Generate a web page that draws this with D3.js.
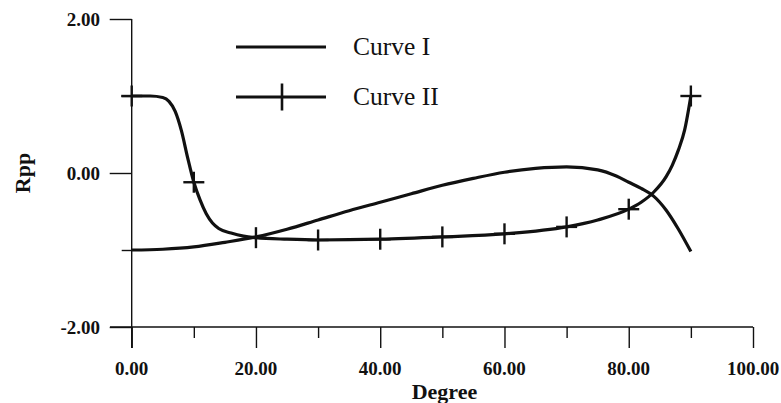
<!DOCTYPE html>
<html>
<head>
<meta charset="utf-8">
<script src="https://cdn.jsdelivr.net/npm/d3@7"></script>
<style>
  html, body { margin: 0; padding: 0; background: #fff; }
  svg { display: block; }
</style>
</head>
<body>
<svg id="chart" width="781" height="403"></svg>
<script>
// ---- data ----
const curve1Deg = [0, 5, 10, 15, 20, 25, 30, 35, 40, 45, 50, 55, 60, 65, 70, 75, 78, 80, 82, 84, 86, 88, 90];
const curve1Val = [-1.0, -0.99, -0.96, -0.9, -0.83, -0.73, -0.61, -0.49, -0.38, -0.27, -0.16, -0.07, 0.01, 0.06, 0.08, 0.04, -0.04, -0.12, -0.2, -0.3, -0.48, -0.73, -1.02];

const curve2Deg = [0, 3, 5, 6, 7, 8, 9, 10, 11, 12, 13, 14, 16, 18, 20, 25, 30, 40, 50, 60, 70, 75, 80, 82, 84, 86, 87, 88, 89, 90];
const curve2Val = [1.0, 1.0, 0.98, 0.93, 0.8, 0.55, 0.2, -0.12, -0.35, -0.53, -0.65, -0.72, -0.78, -0.82, -0.84, -0.86, -0.87, -0.86, -0.83, -0.79, -0.70, -0.61, -0.47, -0.38, -0.25, -0.05, 0.1, 0.3, 0.56, 1.0];

const markerDeg = [0, 10, 20, 30, 40, 50, 60, 70, 80, 90];
const markerVal = [1.0, -0.12, -0.84, -0.87, -0.86, -0.83, -0.79, -0.70, -0.47, 1.0];

const xMajorTicks = [0, 20, 40, 60, 80, 100];
const xMinorTicks = [10, 30, 50, 70, 90];
const yMajorTicks = [-2, 0, 2];
const yMinorTicks = [-1, 1];
const seriesNames = ["Curve I", "Curve II"];

// ---- layout ----
const FONT = "'Liberation Serif', 'Times New Roman', Times, serif";
const svg = d3.select("#chart");
const x = d3.scaleLinear().domain([0, 100]).range([131.7, 753]);
const y = d3.scaleLinear().domain([-2, 2]).range([327, 19]);
const fmt = v => d3.format(".2f")(v).replace("\u2212", "-");
const ink = "#111";

// Axes
const gx = svg.append("g").attr("transform", `translate(0,${y(-2)})`);
gx.call(d3.axisBottom(x).tickValues(xMajorTicks).tickSize(21).tickFormat(""));
gx.call(g => g.select(".domain").remove());
gx.append("g").call(d3.axisBottom(x).tickValues(xMinorTicks).tickSize(11).tickFormat(""))
  .call(g => g.select(".domain").remove());
gx.selectAll("line").attr("stroke", ink).attr("stroke-width", 1.4);

svg.append("line").attr("x1", 110).attr("x2", x(100)).attr("y1", y(-2)).attr("y2", y(-2))
  .attr("stroke", ink).attr("stroke-width", 1.4);

const gy = svg.append("g").attr("transform", `translate(${x(0)},0)`);
gy.call(d3.axisLeft(y).tickValues(yMajorTicks).tickSize(22).tickFormat(""));
gy.call(g => g.select(".domain").remove());
gy.append("g").call(d3.axisLeft(y).tickValues(yMinorTicks).tickSize(10).tickFormat(""))
  .call(g => g.select(".domain").remove());
gy.selectAll("line").attr("stroke", ink).attr("stroke-width", 1.4);

svg.append("line").attr("x1", x(0)).attr("x2", x(0)).attr("y1", y(2)).attr("y2", y(-2) + 21)
  .attr("stroke", ink).attr("stroke-width", 1.4);

// Tick labels
svg.selectAll(".xl").data(xMajorTicks).enter().append("text")
  .attr("x", d => x(d)).attr("y", 375).attr("text-anchor", "middle")
  .attr("font-family", FONT).attr("fill", ink)
  .attr("font-size", 19).attr("font-weight", "bold").text(d => fmt(d));

svg.selectAll(".yl").data(yMajorTicks).enter().append("text")
  .attr("x", 100).attr("y", d => y(d) + 6.5).attr("text-anchor", "end")
  .attr("font-family", FONT).attr("fill", ink)
  .attr("font-size", 19).attr("font-weight", "bold").text(d => fmt(d));

// Axis titles
svg.append("text").attr("x", 444.5).attr("y", 399).attr("text-anchor", "middle")
  .attr("font-family", FONT).attr("fill", ink)
  .attr("font-size", 22).attr("font-weight", "bold").text("Degree");
svg.append("text").attr("transform", `translate(30,${y(0)}) rotate(-90)`)
  .attr("font-family", FONT).attr("fill", ink)
  .attr("text-anchor", "middle").attr("font-size", 22).attr("font-weight", "bold").text("Rpp");

// Curves
const line = d3.line().x(d => x(d[0])).y(d => y(d[1])).curve(d3.curveMonotoneX);
svg.append("path").datum(curve1Deg.map((d, i) => [d, curve1Val[i]]))
  .attr("d", line).attr("fill", "none").attr("stroke", ink).attr("stroke-width", 3.2);
svg.append("path").datum(curve2Deg.map((d, i) => [d, curve2Val[i]]))
  .attr("d", line).attr("fill", "none").attr("stroke", ink).attr("stroke-width", 3.2);

// Markers (+)
const mk = svg.append("g");
markerDeg.forEach((d, i) => {
  const cx = x(d), cy = y(markerVal[i]);
  mk.append("line").attr("x1", cx - 10.5).attr("x2", cx + 10.5).attr("y1", cy).attr("y2", cy)
    .attr("stroke", ink).attr("stroke-width", 2.4);
  mk.append("line").attr("x1", cx).attr("x2", cx).attr("y1", cy - 10.5).attr("y2", cy + 10.5)
    .attr("stroke", ink).attr("stroke-width", 2.4);
});

// Legend
const lg = svg.append("g");
const legY = [47, 97];
lg.append("line").attr("x1", 236).attr("x2", 326).attr("y1", legY[0]).attr("y2", legY[0])
  .attr("stroke", ink).attr("stroke-width", 3);
lg.append("line").attr("x1", 236).attr("x2", 326).attr("y1", legY[1]).attr("y2", legY[1])
  .attr("stroke", ink).attr("stroke-width", 3);
lg.append("line").attr("x1", 282).attr("x2", 282).attr("y1", legY[1] - 13.5).attr("y2", legY[1] + 13.5)
  .attr("stroke", ink).attr("stroke-width", 2.6);
seriesNames.forEach((n, i) => {
  lg.append("text").attr("x", 353).attr("y", legY[i] + 8)
    .attr("font-family", FONT).attr("fill", ink)
    .attr("font-size", 25.5).text(n);
});
</script>
</body>
</html>
